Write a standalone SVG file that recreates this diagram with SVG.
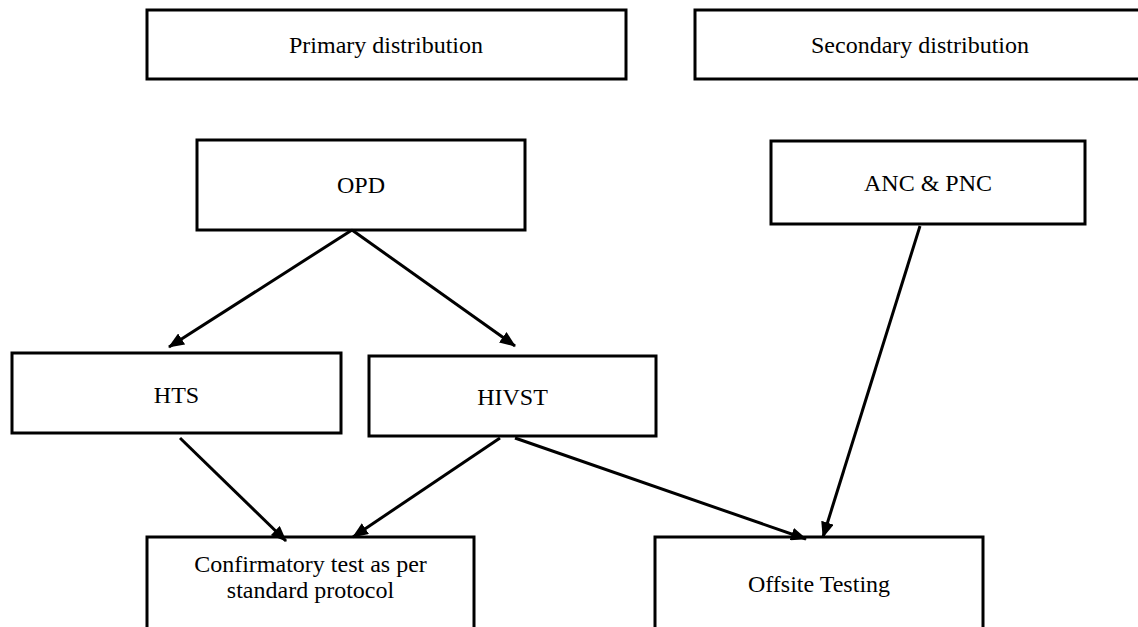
<svg xmlns="http://www.w3.org/2000/svg" width="1138" height="627" viewBox="0 0 1138 627">
<style>
.box{fill:#fff;stroke:#000;stroke-width:3}
.lbl{font-family:"Liberation Serif","Times New Roman",serif;font-size:24px;fill:#000;text-anchor:middle}
.edge{stroke:#000;stroke-width:3;fill:none;marker-end:url(#arr)}
</style>
<defs>
<marker id="arr" markerUnits="userSpaceOnUse" markerWidth="16" markerHeight="13" refX="15" refY="6.5" orient="auto">
<path d="M0,0 L16,6.5 L0,13 z" fill="#000"/>
</marker>
</defs>
<rect width="1138" height="627" fill="#fff"/>
<g id="primary"><rect class="box" x="147" y="10" width="479" height="69"/><text class="lbl" x="386" y="53">Primary distribution</text></g>
<g id="secondary"><rect class="box" x="695" y="10" width="450" height="69"/><text class="lbl" x="920" y="53">Secondary distribution</text></g>
<g id="opd"><rect class="box" x="197" y="140" width="328" height="90"/><text class="lbl" x="361" y="193">OPD</text></g>
<g id="anc"><rect class="box" x="771" y="141" width="314" height="83"/><text class="lbl" x="928" y="191">ANC &amp; PNC</text></g>
<g id="hts"><rect class="box" x="12" y="353" width="329" height="80"/><text class="lbl" x="176.5" y="403">HTS</text></g>
<g id="hivst"><rect class="box" x="369" y="356" width="287" height="80"/><text class="lbl" x="512.5" y="405">HIVST</text></g>
<g id="confirmatory"><rect class="box" x="147" y="537" width="327" height="110"/><text class="lbl" x="310.5" y="572">Confirmatory test as per</text><text class="lbl" x="310.5" y="598">standard protocol</text></g>
<g id="offsite"><rect class="box" x="655" y="537" width="328" height="110"/><text class="lbl" x="819" y="592">Offsite Testing</text></g>
<g id="connectors">
<line class="edge" x1="352" y1="230" x2="169" y2="347"/>
<line class="edge" x1="352" y1="230" x2="515" y2="346"/>
<line class="edge" x1="180" y1="438" x2="286" y2="541"/>
<line class="edge" x1="500" y1="438" x2="353" y2="537"/>
<line class="edge" x1="515" y1="438" x2="806" y2="539"/>
<line class="edge" x1="920" y1="226" x2="823" y2="537"/>
</g>
</svg>
